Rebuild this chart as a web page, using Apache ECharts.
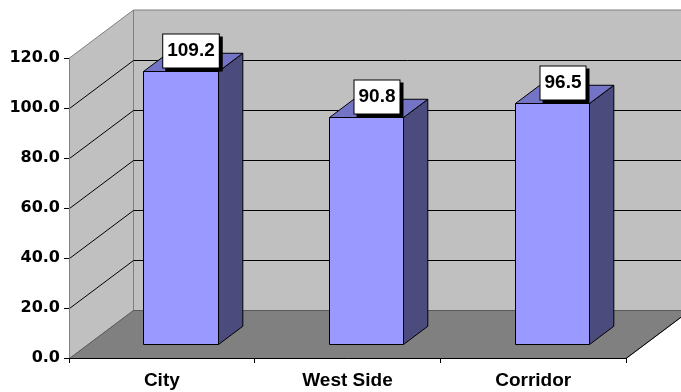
<!DOCTYPE html>
<html>
<head>
<meta charset="utf-8">
<script src="https://cdn.jsdelivr.net/npm/echarts@6/dist/echarts.min.js"></script>
<style>
html, body { margin: 0; padding: 0; background: #fff; }
#chart { width: 681px; height: 392px; }
</style>
</head>
<body>
<div id="chart"></div>
<script>
const categories = ["City", "West Side", "Corridor"];
const values = [109.2, 90.8, 96.5];
const yTicks = [0, 20, 40, 60, 80, 100, 120];

// fake 3d depth of the plot box, in px
const DX = 64, DY = -48;
const BAR_FRONT = 0.29, BAR_BACK = 0.67;

const chart = echarts.init(document.getElementById("chart"));

function renderWalls(params, api) {
  const cs = params.coordSys;
  const x0 = cs.x + 0.5, x1 = cs.x + cs.width;
  const yb = cs.y + cs.height + 0.5, yt = cs.y;
  const children = [];
  // left wall
  children.push({
    type: "polygon",
    shape: { points: [[x0, yb], [x0, yt], [x0 + DX, yt + DY], [x0 + DX, yb + DY]] },
    style: { fill: "#c0c0c0", stroke: "#808080", lineWidth: 1 },
  });
  // back wall
  children.push({
    type: "polygon",
    shape: { points: [[x0 + DX, yt + DY], [x1 + DX, yt + DY], [x1 + DX, yb + DY], [x0 + DX, yb + DY]] },
    style: { fill: "#c0c0c0", stroke: "#808080", lineWidth: 1 },
  });
  // floor
  children.push({
    type: "polygon",
    shape: { points: [[x0, yb], [x1, yb], [x1 + DX, yb + DY], [x0 + DX, yb + DY]] },
    style: { fill: "#808080", stroke: "#5a5a5a", lineWidth: 1 },
  });
  // gridlines running along left wall then back wall
  yTicks.forEach(function (v) {
    if (v === yTicks[0] || v === yTicks[yTicks.length - 1]) return;
    const y = Math.round(api.coord([0, v])[1]) + 0.5;
    children.push({
      type: "polyline",
      shape: { points: [[x0, y], [x0 + DX, y + DY], [x1 + DX, y + DY]] },
      style: { stroke: "#000", fill: null, lineWidth: 1 },
    });
  });
  children.push({
    type: "line",
    shape: { x1: x1, y1: yb, x2: x1 + DX, y2: yb + DY },
    style: { stroke: "#000", lineWidth: 1 },
  });
  return { type: "group", children: children };
}

function renderBar(params, api) {
  const idx = api.value(0);
  const v = api.value(1);
  const top = api.coord([idx, v]);
  const base = api.coord([idx, 0]);
  const w = api.size([1, 0])[0] * 0.4;
  const fx = BAR_FRONT * DX, fy = BAR_FRONT * DY;
  const dx = (BAR_BACK - BAR_FRONT) * DX, dy = (BAR_BACK - BAR_FRONT) * DY;
  const l = Math.round(top[0] - w / 2 + fx) + 0.5;
  const r = Math.round(top[0] + w / 2 + fx) + 0.5;
  const t = Math.round(top[1] + fy) + 0.5;
  const b = Math.round(base[1] + fy) + 0.5;
  const edge = { stroke: "#000", lineWidth: 1 };
  return {
    type: "group",
    children: [
      { type: "polygon", shape: { points: [[r, t], [r + dx, t + dy], [r + dx, b + dy], [r, b]] },
        style: Object.assign({ fill: "#4b4b7e" }, edge) },
      { type: "polygon", shape: { points: [[l, t], [r, t], [r + dx, t + dy], [l + dx, t + dy]] },
        style: Object.assign({ fill: "#7474c6" }, edge) },
      { type: "polygon", shape: { points: [[l, t], [r, t], [r, b], [l, b]] },
        style: Object.assign({ fill: "#9999ff" }, edge) },
      {
        type: "text",
        x: Math.round(top[0] + fx + 11),
        y: Math.round(t - 21),
        style: {
          text: v.toFixed(1),
          font: 'bold 19px "Liberation Sans", Arial, sans-serif',
          fill: "#000",
          align: "center",
          verticalAlign: "middle",
          backgroundColor: "#fff",
          borderColor: "#000",
          borderWidth: 1,
          padding: [7, 4, 7, 4],
          shadowColor: "#000",
          shadowBlur: 0,
          shadowOffsetX: 3,
          shadowOffsetY: 3,
        },
      },
    ],
  };
}

const option = {
  animation: false,
  backgroundColor: "#fff",
  grid: { left: 69, right: 55, top: 58, bottom: 34 },
  xAxis: {
    type: "category",
    data: categories,
    z: 10,
    axisLine: { lineStyle: { color: "#000", width: 1 } },
    axisTick: { show: true, length: 5, lineStyle: { color: "#000" } },
    axisLabel: {
      color: "#000",
      fontFamily: '"Liberation Sans", Arial, sans-serif',
      fontWeight: "bold",
      fontSize: 19,
      margin: 13,
    },
  },
  yAxis: {
    type: "value",
    min: yTicks[0],
    max: yTicks[yTicks.length - 1],
    interval: 20,
    z: 10,
    axisLine: { show: true, lineStyle: { color: "#808080", width: 1 } },
    axisTick: { show: true, length: 5, lineStyle: { color: "#000" } },
    splitLine: { show: false },
    axisLabel: {
      color: "#000",
      fontFamily: '"DejaVu Sans", sans-serif',
      fontWeight: "bold",
      fontSize: 16,
      margin: 9,
      formatter: function (v) { return v.toFixed(1); },
    },
  },
  series: [
    {
      type: "custom",
      z: 1,
      silent: true,
      renderItem: renderWalls,
      data: [[0, 0]],
    },
    {
      type: "custom",
      z: 2,
      renderItem: renderBar,
      encode: { x: 0, y: 1 },
      data: values.map(function (v, i) { return [i, v]; }),
    },
  ],
};
chart.setOption(option);
</script>
</body>
</html>
